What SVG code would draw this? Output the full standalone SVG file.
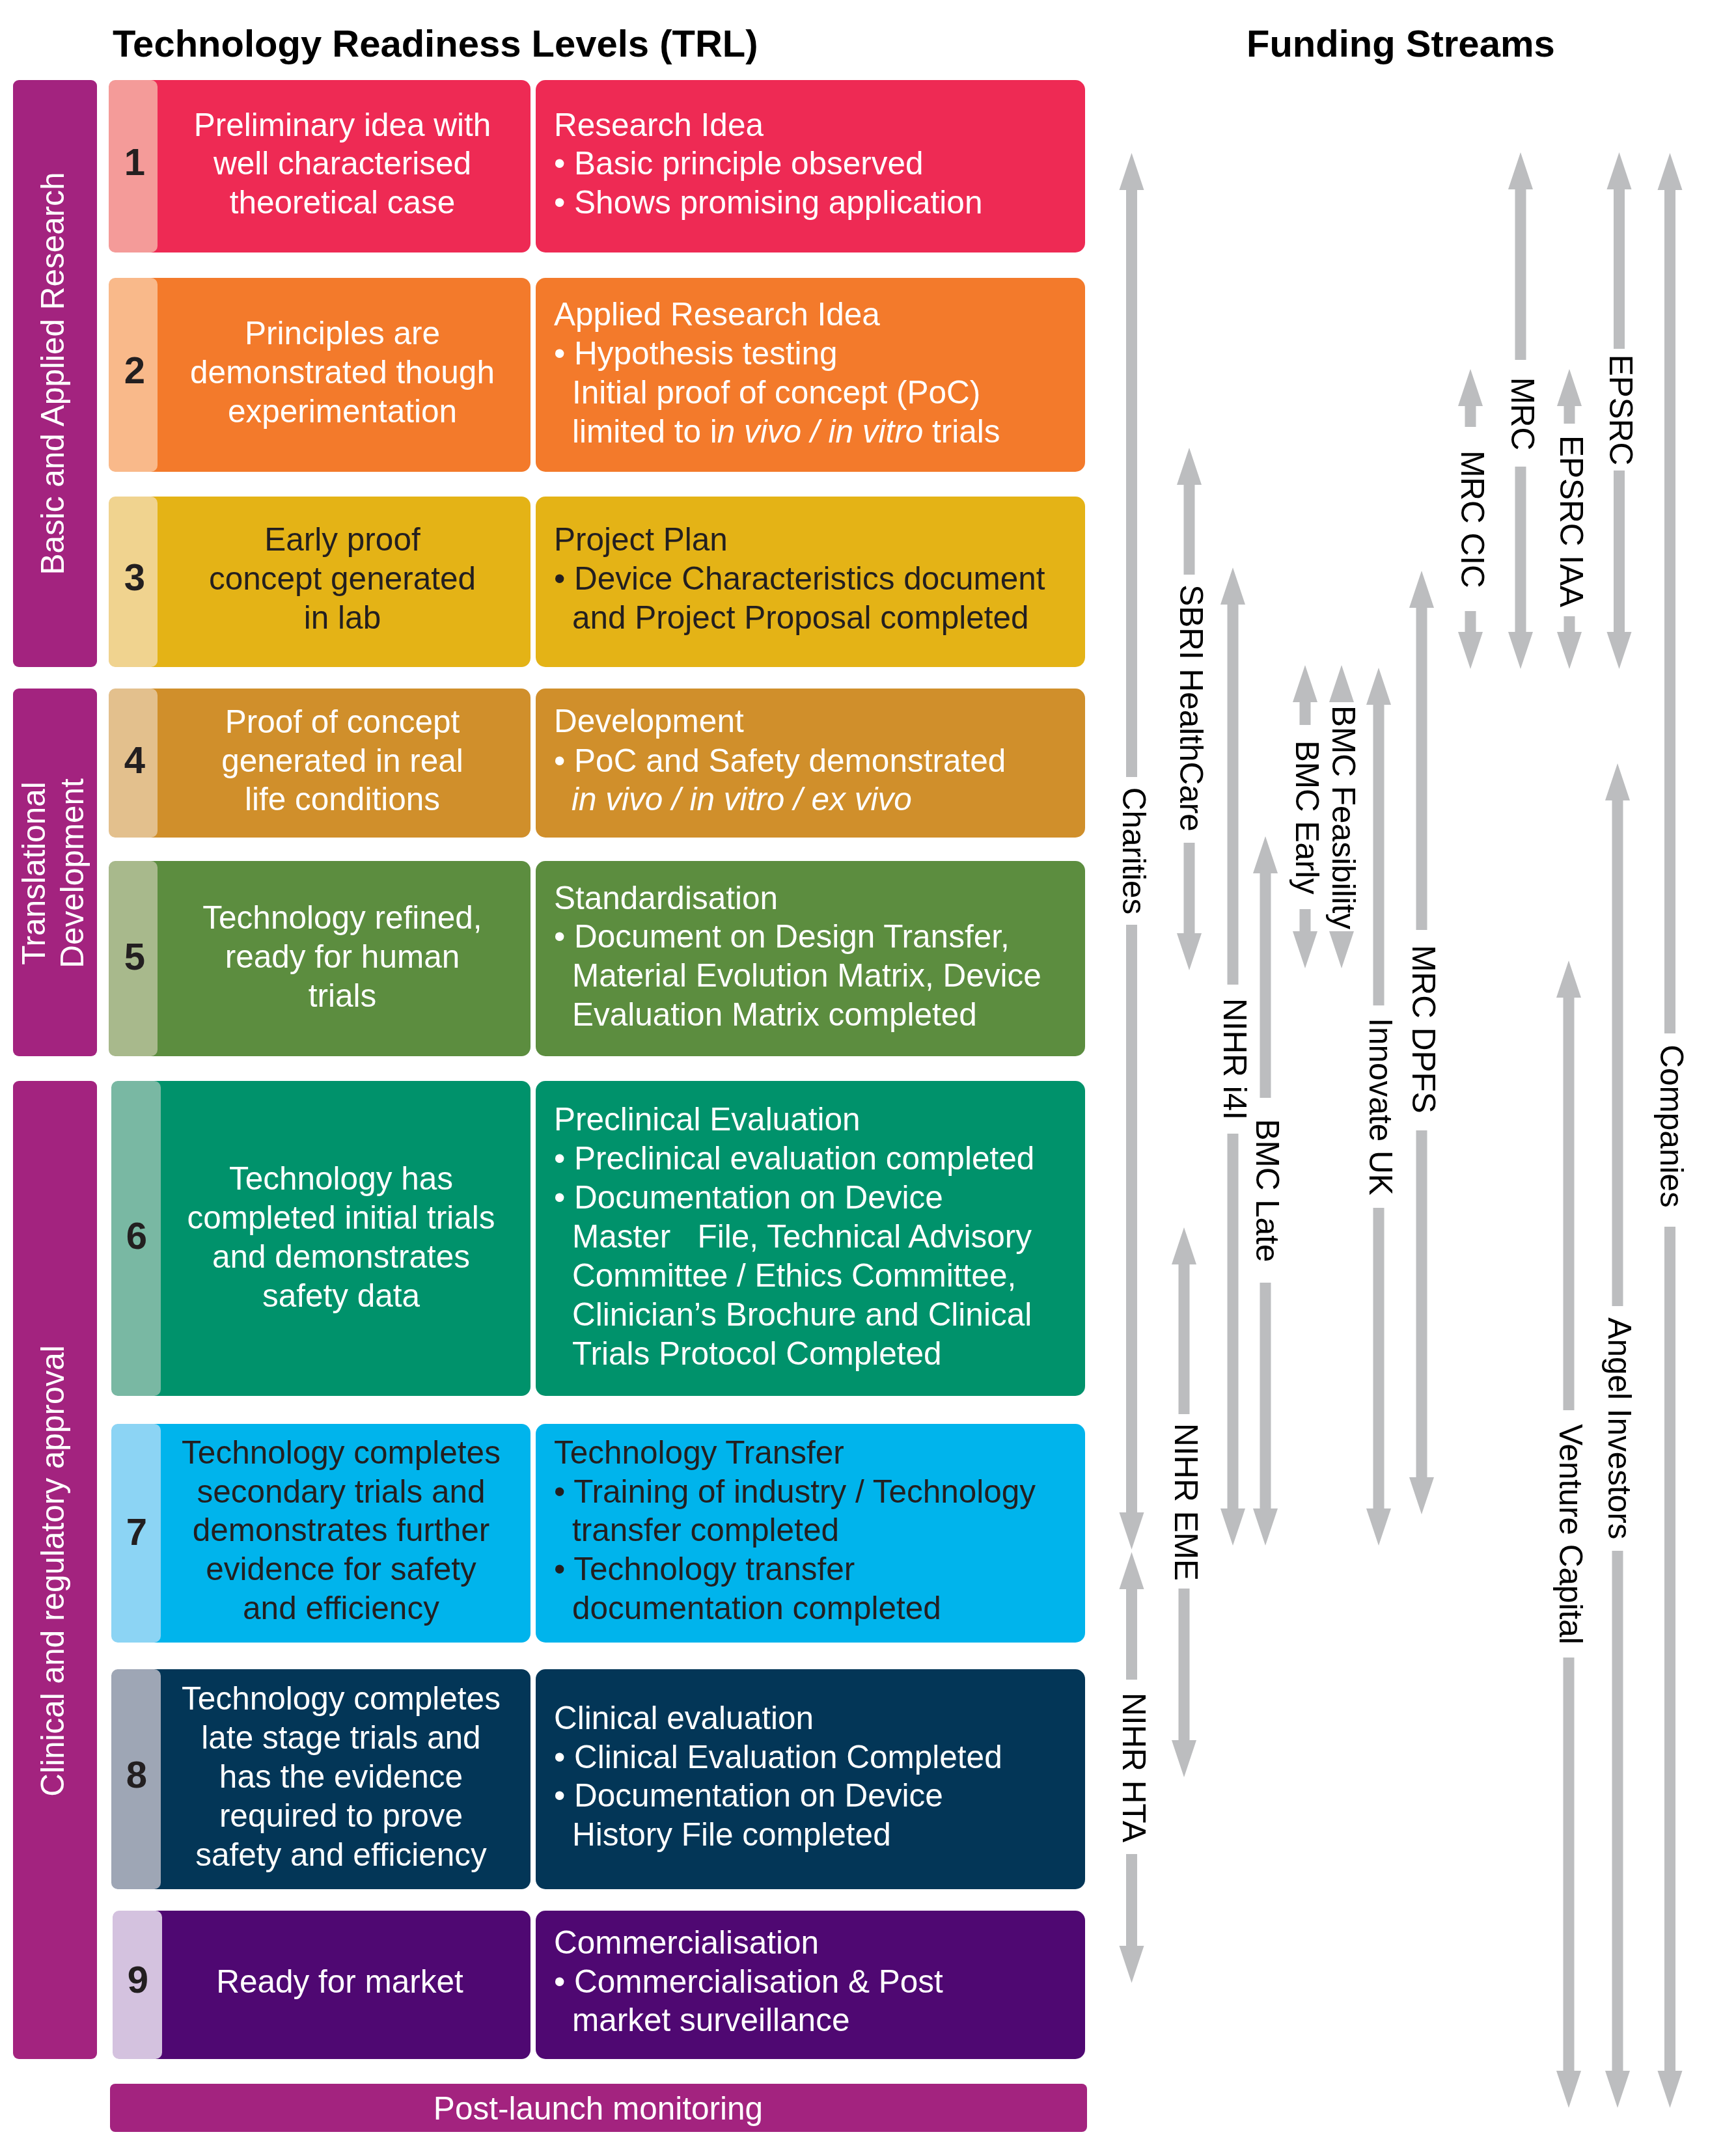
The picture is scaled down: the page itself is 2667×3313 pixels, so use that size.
<svg xmlns="http://www.w3.org/2000/svg" xmlns:xlink="http://www.w3.org/1999/xlink" width="2667" height="3313" viewBox="0 0 2667 3313">
<style>
text{font-family:"Liberation Sans",Arial,Helvetica,sans-serif;font-size:49.5px}
.title{font-weight:bold;font-size:58px;fill:#000}
.w{fill:#ffffff}
.d{fill:#231f20}
.num{font-weight:bold;font-size:58px;fill:#231f20;text-anchor:middle}
.mid{text-anchor:middle}
.lab{fill:#000;text-anchor:middle;dominant-baseline:central}
.bar{fill:#a3237f}
.arr{fill:#bcbdbf}
.it{font-style:italic}
</style>
<defs>
<path id="hu" d="M0,0 L19,57 L-19,57 Z"/>
<path id="hd" d="M0,0 L19,-57 L-19,-57 Z"/>
</defs>
<rect width="2667" height="3313" fill="#ffffff"/>
<text class="title" x="173" y="87">Technology Readiness Levels (TRL)</text>
<text class="title" x="1915" y="87">Funding Streams</text>

<g id="phase-basic">
<rect class="bar" x="20" y="123" width="129" height="902" rx="9"/>
<text class="w mid" transform="translate(98,574) rotate(-90)">Basic and Applied Research</text>
</g>
<g id="phase-translational">
<rect class="bar" x="20" y="1058" width="129" height="565" rx="9"/>
<text class="w mid" transform="translate(69,1342) rotate(-90)">Translational</text>
<text class="w mid" transform="translate(128,1342) rotate(-90)">Development</text>
</g>
<g id="phase-clinical">
<rect class="bar" x="20" y="1661" width="129" height="1503" rx="9"/>
<text class="w mid" transform="translate(98,2414) rotate(-90)">Clinical and regulatory approval</text>
</g>

<g id="trl1">
<rect x="167" y="123" width="648" height="265" rx="14" fill="#ee2a54"/>
<rect x="167" y="123" width="75" height="265" rx="10" fill="#f49b99"/>
<text class="num" x="207" y="269">1</text>
<text class="w mid"><tspan x="526" y="209">Preliminary idea with</tspan><tspan x="526" y="268">well characterised</tspan><tspan x="526" y="328">theoretical case</tspan></text>
<rect x="823" y="123" width="844" height="265" rx="15" fill="#ee2a54"/>
<text class="w"><tspan x="851" y="209">Research Idea</tspan><tspan x="851" y="268">• Basic principle observed</tspan><tspan x="851" y="328">• Shows promising application</tspan></text>
</g>

<g id="trl2">
<rect x="167" y="427" width="648" height="298" rx="14" fill="#f37a2b"/>
<rect x="167" y="427" width="75" height="298" rx="10" fill="#f9b98a"/>
<text class="num" x="207" y="589">2</text>
<text class="w mid"><tspan x="526" y="529">Principles are</tspan><tspan x="526" y="589">demonstrated though</tspan><tspan x="526" y="649">experimentation</tspan></text>
<rect x="823" y="427" width="844" height="298" rx="15" fill="#f37a2b"/>
<text class="w"><tspan x="851" y="500">Applied Research Idea</tspan><tspan x="851" y="560">• Hypothesis testing</tspan><tspan x="879" y="620">Initial proof of concept (PoC)</tspan><tspan x="879" y="680">limited to i<tspan class="it">n vivo / in vitro</tspan> trials</tspan></text>
</g>

<g id="trl3">
<rect x="167" y="763" width="648" height="262" rx="14" fill="#e4b316"/>
<rect x="167" y="763" width="75" height="262" rx="10" fill="#f0d38f"/>
<text class="num" x="207" y="907">3</text>
<text class="d mid"><tspan x="526" y="846">Early proof</tspan><tspan x="526" y="906">concept generated</tspan><tspan x="526" y="966">in lab</tspan></text>
<rect x="823" y="763" width="844" height="262" rx="15" fill="#e4b316"/>
<text class="d"><tspan x="851" y="846">Project Plan</tspan><tspan x="851" y="906">• Device Characteristics document</tspan><tspan x="879" y="966">and Project Proposal completed</tspan></text>
</g>

<g id="trl4">
<rect x="167" y="1058" width="648" height="229" rx="14" fill="#d08f2b"/>
<rect x="167" y="1058" width="75" height="229" rx="10" fill="#e3c08d"/>
<text class="num" x="207" y="1188">4</text>
<text class="w mid"><tspan x="526" y="1126">Proof of concept</tspan><tspan x="526" y="1186">generated in real</tspan><tspan x="526" y="1245">life conditions</tspan></text>
<rect x="823" y="1058" width="844" height="229" rx="15" fill="#d08f2b"/>
<text class="w"><tspan x="851" y="1125">Development</tspan><tspan x="851" y="1186">• PoC and Safety demonstrated</tspan><tspan x="878" y="1245" class="it">in vivo / in vitro / ex vivo</tspan></text>
</g>

<g id="trl5">
<rect x="167" y="1323" width="648" height="300" rx="14" fill="#5c8d3f"/>
<rect x="167" y="1323" width="75" height="300" rx="10" fill="#a8b98c"/>
<text class="num" x="207" y="1490">5</text>
<text class="w mid"><tspan x="526" y="1427">Technology refined,</tspan><tspan x="526" y="1487">ready for human</tspan><tspan x="526" y="1547">trials</tspan></text>
<rect x="823" y="1323" width="844" height="300" rx="15" fill="#5c8d3f"/>
<text class="w"><tspan x="851" y="1397">Standardisation</tspan><tspan x="851" y="1456">• Document on Design Transfer,</tspan><tspan x="879" y="1516">Material Evolution Matrix, Device</tspan><tspan x="879" y="1576">Evaluation Matrix completed</tspan></text>
</g>

<g id="trl6">
<rect x="171" y="1661" width="644" height="484" rx="14" fill="#00926b"/>
<rect x="171" y="1661" width="76" height="484" rx="10" fill="#79b8a3"/>
<text class="num" x="210" y="1919">6</text>
<text class="w mid"><tspan x="524" y="1828">Technology has</tspan><tspan x="524" y="1888">completed initial trials</tspan><tspan x="524" y="1948">and demonstrates</tspan><tspan x="524" y="2008">safety data</tspan></text>
<rect x="823" y="1661" width="844" height="484" rx="15" fill="#00926b"/>
<text class="w"><tspan x="851" y="1737">Preclinical Evaluation</tspan><tspan x="851" y="1797">• Preclinical evaluation completed</tspan><tspan x="851" y="1857">• Documentation on Device</tspan><tspan x="879" y="1917" style="white-space:pre">Master   File, Technical Advisory</tspan><tspan x="879" y="1977">Committee / Ethics Committee,</tspan><tspan x="879" y="2037">Clinician’s Brochure and Clinical</tspan><tspan x="879" y="2097">Trials Protocol Completed</tspan></text>
</g>

<g id="trl7">
<rect x="171" y="2188" width="644" height="336" rx="14" fill="#00b4ec"/>
<rect x="171" y="2188" width="76" height="336" rx="10" fill="#8cd4f4"/>
<text class="num" x="210" y="2374">7</text>
<text class="d mid"><tspan x="524" y="2249">Technology completes</tspan><tspan x="524" y="2309">secondary trials and</tspan><tspan x="524" y="2368">demonstrates further</tspan><tspan x="524" y="2428">evidence for safety</tspan><tspan x="524" y="2488">and efficiency</tspan></text>
<rect x="823" y="2188" width="844" height="336" rx="15" fill="#00b4ec"/>
<text class="d"><tspan x="851" y="2249">Technology Transfer</tspan><tspan x="851" y="2309">• Training of industry / Technology</tspan><tspan x="879" y="2368">transfer completed</tspan><tspan x="851" y="2428">• Technology transfer</tspan><tspan x="879" y="2488">documentation completed</tspan></text>
</g>

<g id="trl8">
<rect x="171" y="2565" width="644" height="338" rx="14" fill="#033657"/>
<rect x="171" y="2565" width="76" height="338" rx="10" fill="#9ea6b5"/>
<text class="num" x="210" y="2747">8</text>
<text class="w mid"><tspan x="524" y="2627">Technology completes</tspan><tspan x="524" y="2687">late stage trials and</tspan><tspan x="524" y="2747">has the evidence</tspan><tspan x="524" y="2807">required to prove</tspan><tspan x="524" y="2867">safety and efficiency</tspan></text>
<rect x="823" y="2565" width="844" height="338" rx="15" fill="#033657"/>
<text class="w"><tspan x="851" y="2657">Clinical evaluation</tspan><tspan x="851" y="2717">• Clinical Evaluation Completed</tspan><tspan x="851" y="2776">• Documentation on Device</tspan><tspan x="879" y="2836">History File completed</tspan></text>
</g>

<g id="trl9">
<rect x="173" y="2936" width="642" height="228" rx="14" fill="#4f0872"/>
<rect x="173" y="2936" width="76" height="228" rx="10" fill="#d4c2df"/>
<text class="num" x="212" y="3062">9</text>
<text class="w mid" x="522" y="3062">Ready for market</text>
<rect x="823" y="2936" width="844" height="228" rx="15" fill="#4f0872"/>
<text class="w"><tspan x="851" y="3002">Commercialisation</tspan><tspan x="851" y="3062">• Commercialisation &amp; Post</tspan><tspan x="879" y="3121">market surveillance</tspan></text>
</g>

<g id="post-launch">
<rect class="bar" x="169" y="3202" width="1501" height="74" rx="8"/>
<text class="w mid" x="919" y="3257">Post-launch monitoring</text>
</g>

<g id="connectors" class="arr">
<!-- Charities -->
<use xlink:href="#hu" x="1738.5" y="235"/><rect x="1730" y="291" width="17" height="903"/><rect x="1730" y="1421" width="17" height="904"/><use xlink:href="#hd" x="1738.5" y="2381"/>
<!-- NIHR HTA -->
<use xlink:href="#hu" x="1738.5" y="2385"/><rect x="1730" y="2441" width="17" height="140"/><rect x="1730" y="2849" width="17" height="142"/><use xlink:href="#hd" x="1738.5" y="3047"/>
<!-- SBRI HealthCare -->
<use xlink:href="#hu" x="1827" y="688"/><rect x="1818.5" y="744" width="17" height="139"/><rect x="1818.5" y="1295" width="17" height="140"/><use xlink:href="#hd" x="1827" y="1491"/>
<!-- NIHR EME -->
<use xlink:href="#hu" x="1819" y="1886"/><rect x="1810.5" y="1942" width="17" height="231"/><rect x="1810.5" y="2441" width="17" height="234"/><use xlink:href="#hd" x="1819" y="2731"/>
<!-- NIHR i4I -->
<use xlink:href="#hu" x="1894" y="872"/><rect x="1885.5" y="928" width="17" height="585"/><rect x="1885.5" y="1742" width="17" height="577"/><use xlink:href="#hd" x="1894" y="2375"/>
<!-- BMC Late -->
<use xlink:href="#hu" x="1944" y="1285"/><rect x="1935.5" y="1341" width="17" height="346"/><rect x="1935.5" y="1971" width="17" height="348"/><use xlink:href="#hd" x="1944" y="2375"/>
<!-- BMC Early -->
<use xlink:href="#hu" x="2005" y="1022"/><rect x="1996.5" y="1078" width="17" height="36"/><rect x="1996.5" y="1397" width="17" height="35"/><use xlink:href="#hd" x="2005" y="1488"/>
<!-- BMC Feasibility -->
<use xlink:href="#hu" x="2061" y="1022"/><use xlink:href="#hd" x="2061" y="1488"/>
<!-- Innovate UK -->
<use xlink:href="#hu" x="2118" y="1026"/><rect x="2109.5" y="1082" width="17" height="463"/><rect x="2109.5" y="1856" width="17" height="463"/><use xlink:href="#hd" x="2118" y="2375"/>
<!-- MRC DPFS -->
<use xlink:href="#hu" x="2184" y="877"/><rect x="2175.5" y="933" width="17" height="496"/><rect x="2175.5" y="1737" width="17" height="534"/><use xlink:href="#hd" x="2184" y="2327"/>
<!-- MRC CIC -->
<use xlink:href="#hu" x="2259" y="567"/><rect x="2250.5" y="623" width="17" height="33"/><rect x="2250.5" y="939" width="17" height="33"/><use xlink:href="#hd" x="2259" y="1028"/>
<!-- MRC -->
<use xlink:href="#hu" x="2336" y="234"/><rect x="2327.5" y="290" width="17" height="263"/><rect x="2327.5" y="717" width="17" height="255"/><use xlink:href="#hd" x="2336" y="1028"/>
<!-- EPSRC IAA -->
<use xlink:href="#hu" x="2411" y="567"/><rect x="2402.5" y="623" width="17" height="28"/><rect x="2402.5" y="947" width="17" height="25"/><use xlink:href="#hd" x="2411" y="1028"/>
<!-- EPSRC -->
<use xlink:href="#hu" x="2487.5" y="234"/><rect x="2479" y="290" width="17" height="246"/><rect x="2479" y="723" width="17" height="249"/><use xlink:href="#hd" x="2487.5" y="1028"/>
<!-- Companies -->
<use xlink:href="#hu" x="2565.5" y="235"/><rect x="2557" y="291" width="17" height="1297"/><rect x="2557" y="1885" width="17" height="1298"/><use xlink:href="#hd" x="2565.5" y="3239"/>
<!-- Angel Investors -->
<use xlink:href="#hu" x="2485" y="1173"/><rect x="2476.5" y="1229" width="17" height="778"/><rect x="2476.5" y="2383" width="17" height="800"/><use xlink:href="#hd" x="2485" y="3239"/>
<!-- Venture Capital -->
<use xlink:href="#hu" x="2410" y="1476"/><rect x="2401.5" y="1532" width="17" height="635"/><rect x="2401.5" y="2547" width="17" height="636"/><use xlink:href="#hd" x="2410" y="3239"/>
</g>

<g id="funding-labels">
<text class="lab" transform="translate(1742,1307.5) rotate(90)">Charities</text>
<text class="lab" transform="translate(1742,2716) rotate(90)">NIHR HTA</text>
<text class="lab" transform="translate(1830,1088) rotate(90)">SBRI HealthCare</text>
<text class="lab" transform="translate(1822,2308) rotate(90)">NIHR EME</text>
<text class="lab" transform="translate(1897,1627.5) rotate(90)">NIHR i4I</text>
<text class="lab" transform="translate(1947,1829.5) rotate(90)">BMC Late</text>
<text class="lab" transform="translate(2008,1256) rotate(90)">BMC Early</text>
<text class="lab" transform="translate(2064,1256) rotate(90)">BMC Feasibility</text>
<text class="lab" transform="translate(2121,1700.5) rotate(90)">Innovate UK</text>
<text class="lab" transform="translate(2187,1581.5) rotate(90)">MRC DPFS</text>
<text class="lab" transform="translate(2262,798) rotate(90)">MRC CIC</text>
<text class="lab" transform="translate(2339,636) rotate(90)">MRC</text>
<text class="lab" transform="translate(2414,801) rotate(90)">EPSRC IAA</text>
<text class="lab" transform="translate(2490.5,630) rotate(90)">EPSRC</text>
<text class="lab" transform="translate(2568.5,1730.5) rotate(90)">Companies</text>
<text class="lab" transform="translate(2488,2195) rotate(90)">Angel Investors</text>
<text class="lab" transform="translate(2413,2357.5) rotate(90)">Venture Capital</text>
</g>
</svg>
